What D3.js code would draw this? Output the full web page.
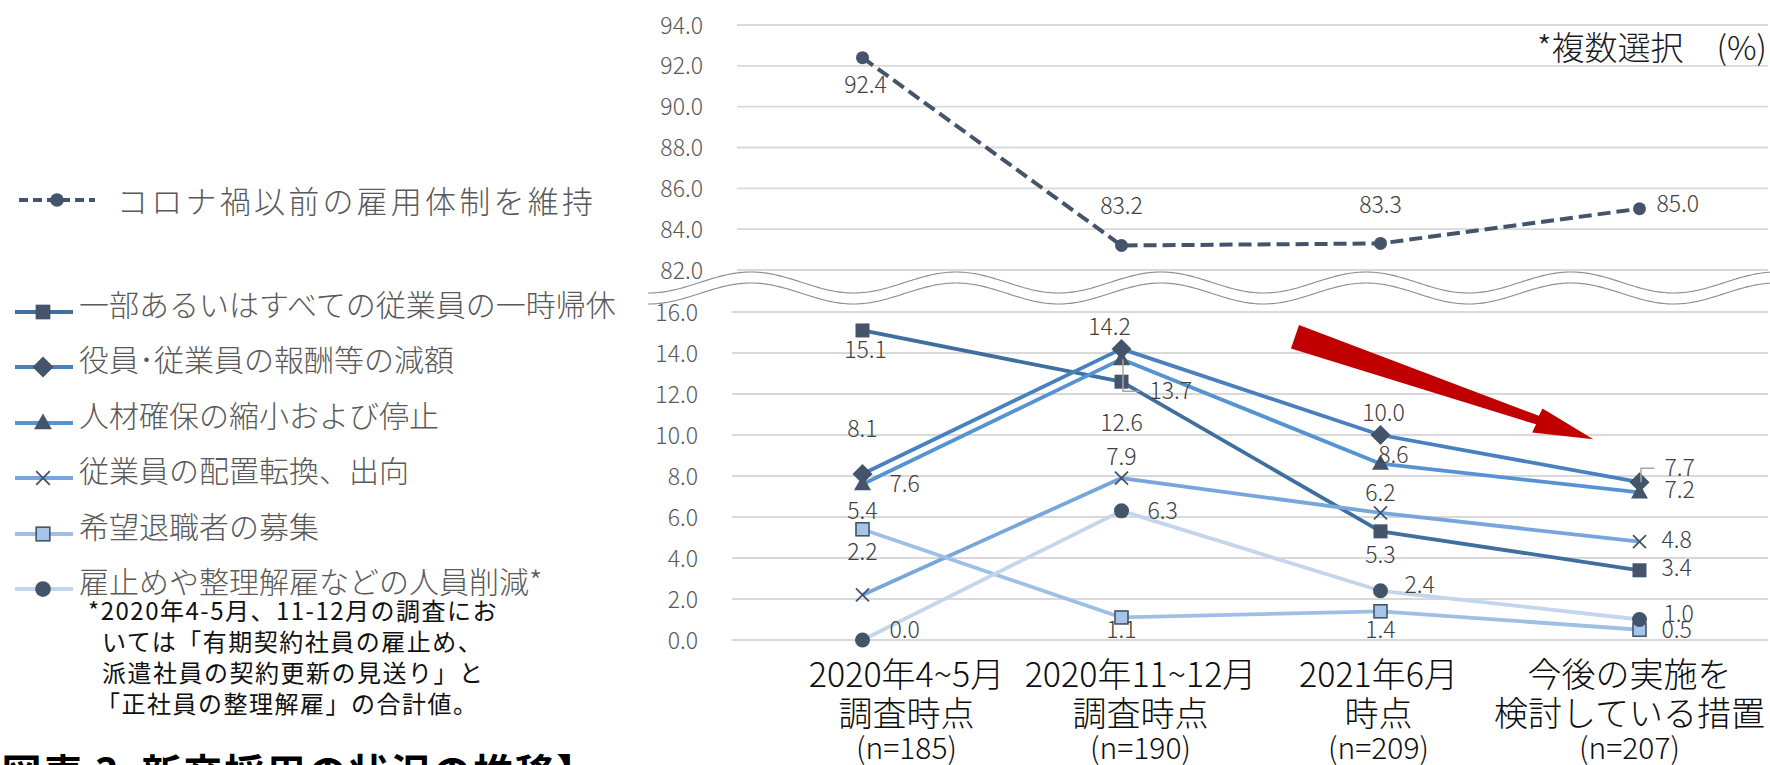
<!DOCTYPE html>
<html>
<head>
<meta charset="utf-8">
<script src="https://cdn.jsdelivr.net/npm/d3@7"></script>
<style>
  html, body { margin: 0; padding: 0; background: #fff; overflow: hidden; }
  svg { display: block; font-family: "Noto Sans CJK JP", "Noto Sans", sans-serif; }
  .thin { font-weight: 300; }
  .pre { white-space: pre; }
</style>
</head>
<body>
<svg id="chart" width="1770" height="765"></svg>
<script>
// ---- data ----
const periods = ["2020年4~5月", "2020年11~12月", "2021年6月", "今後の実施を"];
const periodSub = ["調査時点", "調査時点", "時点", "検討している措置"];
const sampleSizes = ["(n=185)", "(n=190)", "(n=209)", "(n=207)"];

const maintainName = "コロナ禍以前の雇用体制を維持";
const maintainValues = [92.4, 83.2, 83.3, 85.0];

const seriesNames = [
  "一部あるいはすべての従業員の一時帰休",
  "役員･従業員の報酬等の減額",
  "人材確保の縮小および停止",
  "従業員の配置転換、出向",
  "希望退職者の募集",
  "雇止めや整理解雇などの人員削減*"
];
const furlough = [15.1, 12.6, 5.3, 3.4];
const payCut = [8.1, 14.2, 10.0, 7.7];
const hiringCut = [7.6, 13.7, 8.6, 7.2];
const transfer = [2.2, 7.9, 6.2, 4.8];
const voluntaryRetire = [5.4, 1.1, 1.4, 0.5];
const workforceCut = [0.0, 6.3, 2.4, 1.0];

const upperTicks = [82, 84, 86, 88, 90, 92, 94];
const lowerTicks = [0, 2, 4, 6, 8, 10, 12, 14, 16];

const footnote = [
  "*2020年4-5月、11-12月の調査にお",
  "いては「有期契約社員の雇止め、",
  "派遣社員の契約更新の見送り」と",
  "「正社員の整理解雇」の合計値。"
];

// ---- styles ----
const markerDark = "#44546A";
const lineColors = ["#3F6F9F", "#4781BF", "#5693D2", "#76A6DB", "#A0BFE5", "#C4D6EC"];
const markerTypes = ["square", "diamond", "triangle", "cross", "squareLight", "circle"];

// label placement per point: [anchor, dx, dy]  (m = centred, s = start)
const maintainPlace = [["m", 3, 27], ["m", 0, -40], ["m", 0, -39], ["s", 17, -5]];
const labelPlace = [
  [["m", 3, 19], ["m", 0, 41], ["m", 0, 24], ["s", 22, -2]],
  [["m", 0, -45], ["m", -12, -22], ["m", 3, -22], ["s", 25, -14]],
  [["s", 27, 0], ["s", 28, 32], ["m", 13, -9], ["s", 25, -2]],
  [["m", 0, -43], ["m", 0, -21], ["m", 0, -20], ["s", 22, -2]],
  [["m", 0, -18], ["m", 0, 12], ["m", 0, 19], ["s", 22, 0]],
  [["s", 27, -10], ["s", 26, 0], ["s", 24, -6], ["s", 24, -6]]
];
// labels connected to their point by a leader line: [series, point]
const leaders = [[2, 1], [1, 3]];
// horizontal shift of the category text blocks
const catShift = [44, 19, -2, -10];

const series = [furlough, payCut, hiringCut, transfer, voluntaryRetire, workforceCut];

// ---- scales ----
const svg = d3.select("#chart");
const x = d3.scaleBand().domain(periods).range([733, 1769]);
const cx = i => x(periods[i]) + x.bandwidth() / 2;
const yTop = d3.scaleLinear().domain([82, 94]).range([270, 25]);
const yBot = d3.scaleLinear().domain([0, 16]).range([640, 312]);
const fmt = d3.format(".1f");

// ---- gridlines ----
svg.append("g").selectAll("line").data(upperTicks).join("line")
  .attr("x1", 737).attr("x2", 1768)
  .attr("y1", d => yTop(d)).attr("y2", d => yTop(d))
  .attr("stroke", "#D9D9D9").attr("stroke-width", 1.8);
svg.append("g").selectAll("line").data(lowerTicks).join("line")
  .attr("x1", 732).attr("x2", 1768)
  .attr("y1", d => yBot(d)).attr("y2", d => yBot(d))
  .attr("stroke", "#D9D9D9").attr("stroke-width", 1.8);

// ---- y axes (labels only) ----
const axTop = svg.append("g").attr("transform", "translate(703,0)")
  .call(d3.axisLeft(yTop).tickValues(upperTicks).tickFormat(fmt).tickSize(0).tickPadding(0));
const axBot = svg.append("g").attr("transform", "translate(698,0)")
  .call(d3.axisLeft(yBot).tickValues(lowerTicks).tickFormat(fmt).tickSize(0).tickPadding(0));
[axTop, axBot].forEach(a => {
  a.select(".domain").remove();
  a.selectAll("text").attr("font-size", 23).attr("fill", "#595959").attr("class", "thin")
    .attr("font-family", "'Noto Sans CJK JP', sans-serif").attr("dy", "0.35em");
});

// ---- axis break (double wave) ----
const waveXs = d3.range(648, 1772, 2);
const waveY = (mid, d) => mid - 10.5 * Math.cos(2 * Math.PI * (d - 751) / 205);
const waveArea = d3.area().x(d => d).y0(d => waveY(282.5, d)).y1(d => waveY(293.5, d));
svg.append("path").attr("d", waveArea(waveXs)).attr("fill", "#fff");
[282.5, 293.5].forEach(m => {
  svg.append("path").attr("d", d3.line().x(d => d).y(d => waveY(m, d))(waveXs))
    .attr("fill", "none").attr("stroke", "#8C8C8C").attr("stroke-width", 1.1);
});

// ---- markers ----
function marker(g, type, px, py, scale = 1) {
  const s = scale;
  if (type === "square") {
    g.append("rect").attr("x", px - 7 * s).attr("y", py - 7 * s).attr("width", 14 * s).attr("height", 14 * s)
      .attr("fill", markerDark);
  } else if (type === "squareLight") {
    g.append("rect").attr("x", px - 6.5 * s).attr("y", py - 6.5 * s).attr("width", 13 * s).attr("height", 13 * s)
      .attr("fill", "#A6C3E8").attr("stroke", markerDark).attr("stroke-width", 1.6);
  } else if (type === "diamond") {
    g.append("path").attr("d", d3.symbol(d3.symbolSquare, 200 * s * s)())
      .attr("transform", `translate(${px},${py}) rotate(45)`).attr("fill", markerDark);
  } else if (type === "triangle") {
    g.append("path").attr("d", `M${px},${py - 9 * s}L${px + 8.5 * s},${py + 6 * s}L${px - 8.5 * s},${py + 6 * s}Z`)
      .attr("fill", markerDark);
  } else if (type === "cross") {
    const r = 6.5 * s;
    g.append("path").attr("d", `M${px - r},${py - r}L${px + r},${py + r}M${px - r},${py + r}L${px + r},${py - r}`)
      .attr("stroke", markerDark).attr("stroke-width", 1.8).attr("fill", "none");
  } else if (type === "circle") {
    g.append("circle").attr("cx", px).attr("cy", py).attr("r", 7.5 * s).attr("fill", markerDark);
  } else if (type === "dot") {
    g.append("circle").attr("cx", px).attr("cy", py).attr("r", 6.5 * s).attr("fill", markerDark);
  }
}

// ---- upper series (dashed) ----
const lineTop = d3.line().x((d, i) => cx(i)).y(d => yTop(d));
svg.append("path").attr("d", lineTop(maintainValues))
  .attr("fill", "none").attr("stroke", markerDark).attr("stroke-width", 4)
  .attr("stroke-dasharray", "13,6");
const gTop = svg.append("g");
maintainValues.forEach((v, i) => marker(gTop, "dot", cx(i), yTop(v)));

// ---- lower series ----
const lineBot = d3.line().x((d, i) => cx(i)).y(d => yBot(d));
series.forEach((vals, k) => {
  svg.append("path").attr("d", lineBot(vals))
    .attr("fill", "none").attr("stroke", lineColors[k]).attr("stroke-width", 3.8)
    .attr("stroke-linejoin", "round");
});
series.forEach((vals, k) => {
  const g = svg.append("g");
  vals.forEach((v, i) => marker(g, markerTypes[k], cx(i), yBot(v)));
});

// ---- leader lines ----
leaders.forEach(([k, i]) => {
  const px = cx(i), py = yBot(series[k][i]);
  const [, dx, dy] = labelPlace[k][i];
  svg.append("path")
    .attr("d", `M${px + 1.5},${py}L${px + 1.5},${py + dy}L${px + dx - 10},${py + dy}`)
    .attr("fill", "none").attr("stroke", "#A6A6A6").attr("stroke-width", 1.5);
});

// ---- data labels ----
const labelG = svg.append("g").attr("font-size", 23).attr("fill", "#404040").attr("class", "thin");
function putLabel(v, px, py, place) {
  const [a, dx, dy] = place;
  labelG.append("text").attr("x", px + dx).attr("y", py + dy).attr("dy", "0.35em")
    .attr("text-anchor", a === "m" ? "middle" : "start").text(fmt(v));
}
maintainValues.forEach((v, i) => putLabel(v, cx(i), yTop(v), maintainPlace[i]));
series.forEach((vals, k) => vals.forEach((v, i) => putLabel(v, cx(i), yBot(v), labelPlace[k][i])));

// ---- red trend arrow ----
(function () {
  const x0 = 1295, y0 = 336.7, x1 = 1593.3, y1 = 439.3;
  const L = Math.hypot(x1 - x0, y1 - y0);
  const ang = Math.atan2(y1 - y0, x1 - x0) * 180 / Math.PI;
  const hb = L - 59;
  const pts = [[0, -12.4], [hb, -4.5], [hb + 1, -12.5], [L, 0], [hb - 1, 13.5], [hb, 4.5], [0, 12.4]];
  svg.append("path").attr("d", "M" + pts.map(p => p.join(",")).join("L") + "Z")
    .attr("transform", `translate(${x0},${y0}) rotate(${ang})`)
    .attr("fill", "#C00000");
})();

// ---- category labels ----
const catG = svg.append("g").attr("fill", "#0D0D0D").attr("text-anchor", "middle").attr("class", "thin");
const catLineY = [675, 714, 748];
const catSize = [34, 34, 30];
periods.forEach((p, i) => {
  const xc = cx(i) + catShift[i];
  [p, periodSub[i], sampleSizes[i]].forEach((t, j) => {
    catG.append("text").attr("x", xc).attr("y", catLineY[j]).attr("dy", "0.35em")
      .attr("font-size", catSize[j]).text(t);
  });
});

// ---- unit note ----
svg.append("text").attr("x", 1767).attr("y", 48).attr("dy", "0.35em")
  .attr("text-anchor", "end").attr("font-size", 33).attr("fill", "#1A1A1A").attr("class", "thin")
  .text("*複数選択　(%)");

// ---- legend ----
const lg = svg.append("g");
lg.append("line").attr("x1", 19).attr("x2", 95).attr("y1", 200).attr("y2", 200)
  .attr("stroke", markerDark).attr("stroke-width", 4).attr("stroke-dasharray", "9,5");
marker(lg, "dot", 57, 200, 1.05);
lg.append("text").attr("x", 117).attr("y", 202).attr("dy", "0.35em")
  .attr("font-size", 31).attr("fill", "#595959").attr("class", "thin")
  .attr("textLength", 476).attr("lengthAdjust", "spacing").text(maintainName);

const legendY = [312, 367, 423, 478, 534, 589];
seriesNames.forEach((name, k) => {
  const ly = legendY[k];
  lg.append("line").attr("x1", 15).attr("x2", 73).attr("y1", ly).attr("y2", ly)
    .attr("stroke", lineColors[k]).attr("stroke-width", 4);
  marker(lg, markerTypes[k], 43, ly, 1.05);
  lg.append("text").attr("x", 79).attr("y", ly - 7).attr("dy", "0.35em")
    .attr("font-size", 30).attr("fill", "#595959").attr("class", "thin").text(name);
});

// ---- footnote ----
const fn = svg.append("g").attr("font-size", 24).attr("fill", "#111").attr("letter-spacing", 1.5);
const fnX = [88, 102, 102, 96];
footnote.forEach((t, i) => {
  fn.append("text").attr("x", fnX[i]).attr("y", 612 + i * 30.7).attr("dy", "0.35em").text(t);
});

// ---- next figure heading (cut by the frame) ----
svg.append("text").attr("class", "pre").attr("x", -40).attr("y", 774).attr("dy", "0.35em")
  .attr("font-size", 40).attr("font-weight", "bold").attr("fill", "#000")
  .attr("letter-spacing", 1.5)
  .text("【図表 3  新卒採用の状況の推移】");
</script>
</body>
</html>
